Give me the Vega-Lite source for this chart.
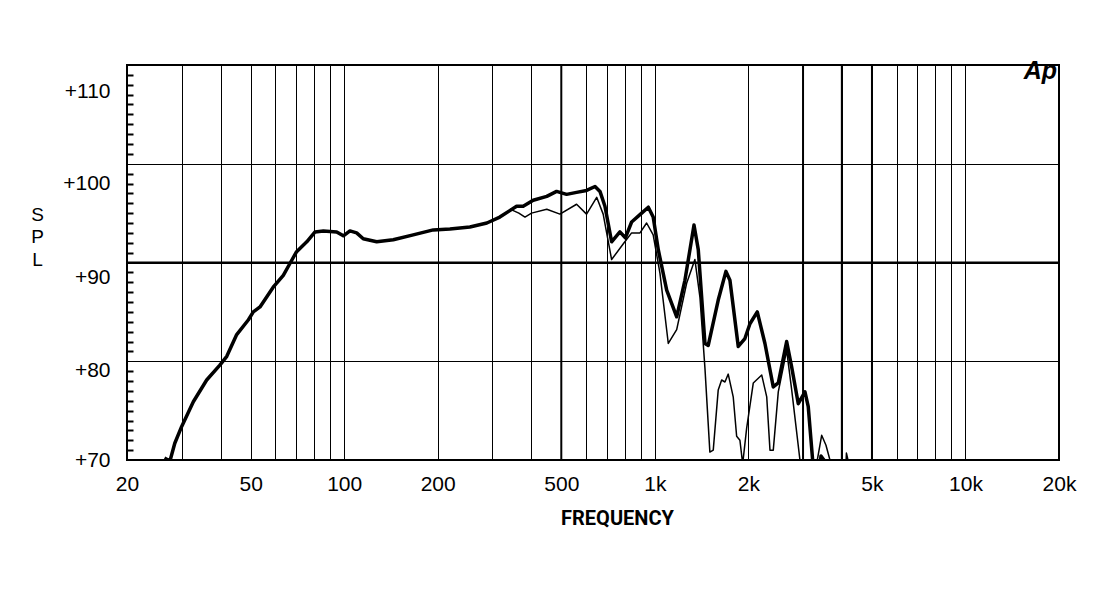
{
  "$schema": "https://vega.github.io/schema/vega-lite/v6.json",
  "width": 932,
  "height": 395,
  "autosize": {"type": "none"},
  "padding": {"left": 127, "top": 65, "right": 41, "bottom": 140},
  "background": "white",
  "title": {
    "text": "Ap",
    "anchor": "end",
    "frame": "group",
    "orient": "top",
    "baseline": "alphabetic",
    "offset": 0,
    "dy": 40,
    "dx": -2,
    "font": "Liberation Sans",
    "fontSize": 25,
    "fontStyle": "italic",
    "fontWeight": "bold",
    "color": "black"
  },
  "config": {
    "view": {"stroke": "black", "strokeWidth": 2},
    "axis": {
      "domain": false,
      "labelFont": "Liberation Sans",
      "labelFontSize": 21,
      "labelColor": "black",
      "gridColor": "black",
      "gridOpacity": 1,
      "gridWidth": 1,
      "tickColor": "black"
    }
  },
  "datasets": {
    "thick": [
      {"f": 26.4, "db": 70.2}, {"f": 27.5, "db": 69.9}, {"f": 28.5, "db": 71.7},
      {"f": 30.0, "db": 73.4}, {"f": 32.7, "db": 75.9}, {"f": 36.1, "db": 78.1},
      {"f": 39.8, "db": 79.6}, {"f": 41.9, "db": 80.5}, {"f": 45.1, "db": 82.7},
      {"f": 49.2, "db": 84.2}, {"f": 51.0, "db": 85.0}, {"f": 53.6, "db": 85.5},
      {"f": 59.1, "db": 87.5}, {"f": 63.7, "db": 88.7}, {"f": 66.9, "db": 89.9},
      {"f": 70.3, "db": 91.1}, {"f": 75.8, "db": 92.1}, {"f": 80.6, "db": 93.1},
      {"f": 85.7, "db": 93.2}, {"f": 94.6, "db": 93.1}, {"f": 99.4, "db": 92.7},
      {"f": 104.4, "db": 93.2}, {"f": 109.7, "db": 93.0}, {"f": 115.2, "db": 92.4},
      {"f": 127.3, "db": 92.1}, {"f": 143.9, "db": 92.3}, {"f": 166.9, "db": 92.8},
      {"f": 193.6, "db": 93.3}, {"f": 219, "db": 93.4}, {"f": 254, "db": 93.6},
      {"f": 288, "db": 94.0}, {"f": 317, "db": 94.6}, {"f": 359, "db": 95.7},
      {"f": 377, "db": 95.7}, {"f": 406, "db": 96.3}, {"f": 449, "db": 96.7},
      {"f": 483, "db": 97.2}, {"f": 520, "db": 96.9}, {"f": 560, "db": 97.1},
      {"f": 603, "db": 97.3}, {"f": 642, "db": 97.7}, {"f": 666, "db": 97.2},
      {"f": 691, "db": 95.7}, {"f": 726, "db": 92.1}, {"f": 772, "db": 93.1},
      {"f": 804, "db": 92.5}, {"f": 842, "db": 94.1}, {"f": 907, "db": 95.0},
      {"f": 953, "db": 95.6}, {"f": 988, "db": 94.6}, {"f": 1026, "db": 91.3},
      {"f": 1092, "db": 87.2}, {"f": 1176, "db": 84.5}, {"f": 1250, "db": 88.2},
      {"f": 1337, "db": 93.8}, {"f": 1380, "db": 91.3}, {"f": 1450, "db": 81.8},
      {"f": 1486, "db": 81.6}, {"f": 1600, "db": 86.2}, {"f": 1694, "db": 89.1},
      {"f": 1745, "db": 88.2}, {"f": 1856, "db": 81.5}, {"f": 1950, "db": 82.3},
      {"f": 2024, "db": 83.8}, {"f": 2137, "db": 85.0}, {"f": 2262, "db": 81.8},
      {"f": 2406, "db": 77.4}, {"f": 2497, "db": 77.8}, {"f": 2657, "db": 82.0},
      {"f": 2758, "db": 79.4}, {"f": 2896, "db": 75.7}, {"f": 3043, "db": 76.9},
      {"f": 3118, "db": 75.4}, {"f": 3221, "db": 70.0}, {"f": 3278, "db": 67},
      {"f": 3356, "db": 67}, {"f": 3426, "db": 70.4}, {"f": 3503, "db": 70.0},
      {"f": 3556, "db": 67}
    ],
    "thin": [
      {"f": 342, "db": 95.4}, {"f": 365, "db": 95.0}, {"f": 382, "db": 94.6},
      {"f": 401, "db": 95.0}, {"f": 449, "db": 95.4}, {"f": 495, "db": 94.9},
      {"f": 560, "db": 95.9}, {"f": 603, "db": 94.9}, {"f": 650, "db": 96.6},
      {"f": 682, "db": 94.9}, {"f": 726, "db": 90.3}, {"f": 792, "db": 91.9},
      {"f": 842, "db": 93.0}, {"f": 896, "db": 93.0}, {"f": 941, "db": 94.0},
      {"f": 988, "db": 92.8}, {"f": 1039, "db": 88.9}, {"f": 1105, "db": 81.8},
      {"f": 1176, "db": 83.2}, {"f": 1266, "db": 87.9}, {"f": 1346, "db": 90.3},
      {"f": 1397, "db": 86.5}, {"f": 1450, "db": 79.3}, {"f": 1504, "db": 70.8},
      {"f": 1542, "db": 71.0}, {"f": 1600, "db": 77.1}, {"f": 1641, "db": 78.1},
      {"f": 1682, "db": 77.9}, {"f": 1723, "db": 78.7}, {"f": 1788, "db": 76.4},
      {"f": 1834, "db": 72.4}, {"f": 1879, "db": 72.0}, {"f": 1918, "db": 69.6},
      {"f": 1975, "db": 73.2}, {"f": 2075, "db": 77.8}, {"f": 2209, "db": 78.6},
      {"f": 2292, "db": 76.4}, {"f": 2348, "db": 71.0}, {"f": 2406, "db": 71.0},
      {"f": 2497, "db": 76.9}, {"f": 2657, "db": 81.1}, {"f": 2758, "db": 77.1},
      {"f": 2932, "db": 70.0}, {"f": 2998, "db": 67}, {"f": 3278, "db": 67},
      {"f": 3326, "db": 69.8}, {"f": 3444, "db": 72.5}, {"f": 3556, "db": 71.5},
      {"f": 3662, "db": 70.0}, {"f": 3744, "db": 67}, {"f": 4092, "db": 67},
      {"f": 4138, "db": 70.7}, {"f": 4200, "db": 69.8}, {"f": 4250, "db": 67}
    ]
  },
  "layer": [
    {
      "data": {"values": [{"f": 500}, {"f": 3000}, {"f": 4000}, {"f": 5000}]},
      "mark": {"type": "rule", "strokeWidth": 2, "color": "black"},
      "encoding": {
        "x": {
          "field": "f", "type": "quantitative",
          "scale": {"type": "log", "domain": [20, 20000], "nice": false},
          "axis": null
        }
      }
    },
    {
      "data": {"values": [{"db": 90}]},
      "mark": {"type": "rule", "strokeWidth": 2, "color": "black"},
      "encoding": {
        "y": {
          "field": "db", "type": "quantitative",
          "scale": {"domain": [70, 110], "nice": false, "zero": false},
          "axis": {
            "orient": "left",
            "values": [71, 72, 73, 74, 75, 76, 77, 78, 79, 81, 82, 83, 84, 85, 86, 87, 88, 89,
                       91, 92, 93, 94, 95, 96, 97, 98, 99, 101, 102, 103, 104, 105, 106, 107, 108, 109],
            "ticks": true, "tickSize": -6, "tickWidth": 2,
            "labels": false, "grid": false, "title": null
          }
        }
      }
    },
    {
      "data": {"name": "thin"},
      "mark": {"type": "line", "strokeWidth": 1.5, "color": "black", "clip": true, "strokeJoin": "round"},
      "encoding": {
        "x": {
          "field": "f", "type": "quantitative",
          "scale": {"type": "log", "domain": [20, 20000], "nice": false},
          "axis": {
            "orient": "bottom",
            "values": [20, 50, 100, 200, 500, 1000, 2000, 5000, 10000, 20000],
            "labelExpr": "datum.value >= 1000 ? (datum.value / 1000) + 'k' : '' + datum.value",
            "ticks": false, "tickSize": 0, "labelPadding": 13,
            "grid": false, "labelFlush": false, "labelOverlap": false,
            "title": "FREQUENCY",
            "titleFont": "Roboto",
            "titleFontWeight": "bold",
            "titleFontSize": 20,
            "titleColor": "black",
            "titleX": 490, "titleY": 64,
            "titleBaseline": "alphabetic", "titleAlign": "center"
          }
        },
        "y": {
          "field": "db", "type": "quantitative",
          "scale": {"domain": [70, 110], "nice": false, "zero": false},
          "axis": {
            "orient": "left",
            "values": [70, 79.05, 88.5, 98.0, 107.3],
            "labelExpr": "'+' + (round((datum.value - 70) / 9.4) * 10 + 70)",
            "ticks": false, "tickSize": 0, "labelPadding": 17,
            "grid": false, "labelFlush": false, "labelOverlap": false,
            "labelBaseline": "middle",
            "title": ["S", "P", "L"],
            "titleAngle": 0,
            "titleX": -90, "titleY": 155,
            "titleBaseline": "alphabetic", "titleAlign": "center",
            "titleFont": "Liberation Sans", "titleFontSize": 19,
            "titleFontWeight": "normal", "titleLineHeight": 22.5,
            "titleColor": "black"
          }
        }
      }
    },
    {
      "data": {"name": "thick"},
      "mark": {"type": "line", "strokeWidth": 3.5, "color": "black", "clip": true, "strokeJoin": "round"},
      "encoding": {
        "x": {
          "field": "f", "type": "quantitative",
          "scale": {"type": "log", "domain": [20, 20000], "nice": false},
          "axis": {
            "orient": "bottom",
            "values": [30, 40, 50, 60, 70, 80, 90, 100, 200, 300, 400, 500, 600, 700, 800, 900,
                       1000, 2000, 3000, 4000, 5000, 6000, 7000, 8000, 9000, 10000],
            "grid": true, "labels": false, "ticks": false, "title": null
          }
        },
        "y": {
          "field": "db", "type": "quantitative",
          "scale": {"domain": [70, 110], "nice": false, "zero": false},
          "axis": {
            "orient": "left",
            "values": [80, 90, 100],
            "grid": true, "labels": false, "ticks": false, "title": null
          }
        }
      }
    }
  ],
  "resolve": {"axis": {"x": "independent", "y": "independent"}}
}
